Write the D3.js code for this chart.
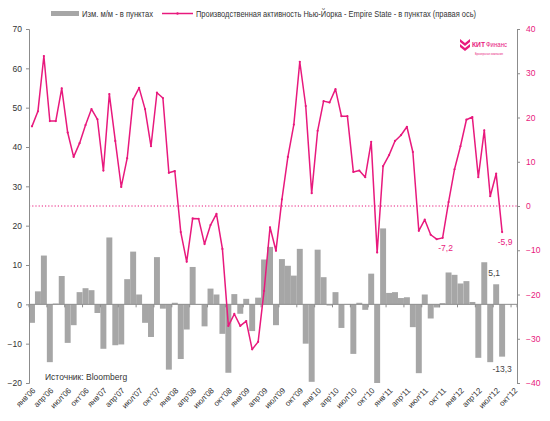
<!DOCTYPE html>
<html><head><meta charset="utf-8">
<script src="https://cdn.jsdelivr.net/npm/d3@7"></script>
<style>
body{margin:0;background:#fff;}
svg{display:block;font-family:"Liberation Sans",Arial,sans-serif;}
</style></head>
<body><svg id="c" width="550" height="421"></svg>
<script>
const months = [
"янв'06","фев'06","мар'06","апр'06","май'06","июн'06","июл'06","авг'06","сен'06","окт'06","ноя'06","дек'06",
"янв'07","фев'07","мар'07","апр'07","май'07","июн'07","июл'07","авг'07","сен'07","окт'07","ноя'07","дек'07",
"янв'08","фев'08","мар'08","апр'08","май'08","июн'08","июл'08","авг'08","сен'08","окт'08","ноя'08","дек'08",
"янв'09","фев'09","мар'09","апр'09","май'09","июн'09","июл'09","авг'09","сен'09","окт'09","ноя'09","дек'09",
"янв'10","фев'10","мар'10","апр'10","май'10","июн'10","июл'10","авг'10","сен'10","окт'10","ноя'10","дек'10",
"янв'11","фев'11","мар'11","апр'11","май'11","июн'11","июл'11","авг'11","сен'11","окт'11","ноя'11","дек'11",
"янв'12","фев'12","мар'12","апр'12","май'12","июн'12","июл'12","авг'12","сен'12","окт'12"];

const tickLabels = [
"янв'06","апр'06","июл'06","окт'06","янв'07","апр'07","июл'07","окт'07",
"янв'08","апр'08","июл'08","окт'08","янв'09","апр'09","июл'09","окт'09",
"янв'10","апр'10","июл'10","окт'10","янв'11","апр'11","июл'11","окт'11",
"янв'12","апр'12","июл'12","окт'12"];

// month-on-month change, points (left axis)
const changeMoM = [
-4.7, 3.3, 12.4, -14.7, 0.2, 7.2, -9.8, -5.3, 3.1, 4.1, 3.6, -2.2,
-11.3, 17.0, -10.4, -10.2, 6.4, 13.4, 2.5, -4.7, -8.3, 12.0, -1.1, -16.6,
0.4, -13.9, -6.4, 9.5, -0.1, -5.6, 4.0, 2.5, -7.5, -17.4, 2.6, -2.4,
1.4, -6.8, 1.7, 11.4, 14.6, -5.3, 11.5, 9.8, 7.3, 14.1, -10.0, -19.7,
13.9, 6.9, -0.3, 3.1, -6.0, 0.1, -12.6, 0.4, -1.4, 7.8, -25.2, 19.3,
2.9, 3.1, 1.6, 1.8, -5.8, -17.5, 2.5, -3.6, -0.8, 0.3, 8.1, 7.5,
5.3, 5.9, 0.6, -13.6, 10.7, -14.7, 5.1, -13.3, null, null];

// Empire State index (right axis)
const empireState = [
18.0, 21.4, 33.9, 19.2, 19.2, 26.6, 16.6, 11.1, 14.2, 18.3, 21.9, 19.6,
8.0, 25.3, 14.7, 4.3, 10.8, 24.1, 26.7, 21.9, 13.5, 25.6, 24.4, 7.5,
7.9, -5.9, -12.6, -2.8, -2.9, -8.6, -4.3, -1.8, -9.7, -27.1, -24.4, -27.1,
-26.0, -32.4, -30.7, -19.2, -4.8, -10.1, 1.5, 11.1, 18.4, 32.6, 22.6, 2.9,
17.0, 23.7, 23.4, 26.4, 20.3, 20.3, 7.7, 8.0, 6.5, 14.5, -10.5, 9.0,
11.5, 14.7, 16.0, 17.9, 12.2, -5.6, -3.1, -6.5, -7.5, -7.2, 0.9, 8.3,
13.5, 19.5, 20.1, 6.5, 17.1, 2.2, 7.3, -5.9, null, null];

const leftTicks = [-20,-10,0,10,20,30,40,50,60,70];
const rightTicks = [-40,-30,-20,-10,0,10,20,30,40];

const barLabels = [{m:"июл'12", v:5.1, t:"5,1"}, {m:"авг'12", v:-13.3, t:"-13,3"}];
const lineLabels = [{m:"окт'11", v:-7.2, t:"-7,2"}, {m:"авг'12", v:-5.9, t:"-5,9"}];

const legendBar = "Изм. м/м - в пунктах";
const legendLine = "Производственная активность Нью-Йорка - Empire State - в пунктах (правая ось)";

const PINK = "#e8197d", GRAY = "#a6a6a6", AXIS = "#8c8c8c", TXT = "#333";
const L = 29, R = 517, T = 29, B = 383;

const svg = d3.select("#c");
const x = d3.scaleBand().domain(months).range([L, R]).padding(0);
const yL = d3.scaleLinear().domain([-20, 70]).range([B, T]);
const yR = d3.scaleLinear().domain([-40, 40]).range([B, T]);
const cx = m => x(m) + x.bandwidth() / 2;

svg.append("defs").append("clipPath").attr("id", "plot")
  .append("rect").attr("x", L).attr("y", T).attr("width", R - L).attr("height", B - T);

// bars
svg.append("g").attr("clip-path", "url(#plot)").selectAll("rect")
  .data(months.map((m, i) => ({m, v: changeMoM[i]})).filter(d => d.v !== null))
  .join("rect")
  .attr("x", d => x(d.m))
  .attr("width", x.bandwidth())
  .attr("y", d => Math.min(yL(d.v), yL(0)))
  .attr("height", d => Math.abs(yL(d.v) - yL(0)))
  .attr("fill", GRAY);

// x axis line at 0 (left)
const xAxisG = svg.append("g").attr("transform", `translate(0,${yL(0)})`);
xAxisG.append("line").attr("x1", L).attr("x2", R).attr("stroke", AXIS).attr("stroke-width", 1);
xAxisG.selectAll("line.t").data(tickLabels).join("line").attr("class", "t")
  .attr("x1", d => x(d)).attr("x2", d => x(d)).attr("y1", 0).attr("y2", 3)
  .attr("stroke", AXIS);
xAxisG.append("line").attr("x1", R).attr("x2", R).attr("y1", 0).attr("y2", 3).attr("stroke", AXIS);

// rotated tick labels at bottom
svg.append("g").selectAll("text").data(tickLabels).join("text")
  .attr("transform", d => `translate(${cx(d) + 2},${B + 6}) rotate(-45)`)
  .attr("text-anchor", "end")
  .attr("dy", "0.35em")
  .attr("font-size", 8)
  .attr("fill", TXT)
  .text(d => d);

// zero line of right axis (dotted)
svg.append("line").attr("x1", L).attr("x2", R).attr("y1", yR(0)).attr("y2", yR(0))
  .attr("stroke", PINK).attr("stroke-width", 1).attr("stroke-dasharray", "1.2,2");

// left axis
const gl = svg.append("g").attr("transform", `translate(${L},0)`)
  .call(d3.axisLeft(yL).tickValues(leftTicks).tickSize(3).tickPadding(4));
gl.select(".domain").attr("stroke", AXIS);
gl.selectAll(".tick line").attr("stroke", AXIS);
gl.selectAll(".tick text").attr("font-size", 8.5).attr("fill", TXT).attr("font-family", "Liberation Sans, Arial, sans-serif");

// right axis
const gr = svg.append("g").attr("transform", `translate(${R},0)`)
  .call(d3.axisRight(yR).tickValues(rightTicks).tickSize(3).tickPadding(6));
gr.select(".domain").attr("stroke", AXIS);
gr.selectAll(".tick line").attr("stroke", AXIS);
gr.selectAll(".tick text").attr("font-size", 8.5).attr("fill", PINK).attr("font-family", "Liberation Sans, Arial, sans-serif");

// line
const lineData = months.map((m, i) => ({m, v: empireState[i]})).filter(d => d.v !== null);
svg.append("path").datum(lineData)
  .attr("d", d3.line().x(d => cx(d.m)).y(d => yR(d.v)))
  .attr("fill", "none").attr("stroke", PINK).attr("stroke-width", 1.5).attr("stroke-linejoin", "round");
svg.append("g").selectAll("circle").data(lineData).join("circle")
  .attr("cx", d => cx(d.m)).attr("cy", d => yR(d.v)).attr("r", 1.1).attr("fill", PINK);

// labels
svg.append("g").selectAll("text").data(barLabels).join("text")
  .attr("x", d => cx(d.m) + (d.v < 0 ? 0 : -2))
  .attr("y", d => d.v >= 0 ? yL(d.v) - 8 : yL(d.v) + 15)
  .attr("text-anchor", "middle").attr("font-size", 8.5).attr("fill", "#444").text(d => d.t);
svg.append("g").selectAll("text").data(lineLabels).join("text")
  .attr("x", d => cx(d.m) + 3)
  .attr("y", d => yR(d.v) + 13)
  .attr("text-anchor", "middle").attr("font-size", 8.5).attr("fill", PINK).text(d => d.t);

// source
svg.append("text").attr("x", 45).attr("y", 380).attr("font-size", 8.5).attr("fill", TXT).text("Источник: Bloomberg");

// legend
const lg = svg.append("g");
lg.append("rect").attr("x", 51).attr("y", 11).attr("width", 28).attr("height", 5).attr("fill", GRAY);
lg.append("text").attr("x", 82).attr("y", 16.5).attr("font-size", 8.5).attr("fill", TXT)
  .attr("textLength", 71).attr("lengthAdjust", "spacingAndGlyphs").text(legendBar);
lg.append("line").attr("x1", 162).attr("x2", 193).attr("y1", 13.5).attr("y2", 13.5).attr("stroke", PINK).attr("stroke-width", 1.5);
lg.append("circle").attr("cx", 177.5).attr("cy", 13.5).attr("r", 1.2).attr("fill", PINK);
lg.append("text").attr("x", 196).attr("y", 16.5).attr("font-size", 8.5).attr("fill", TXT)
  .attr("textLength", 280).attr("lengthAdjust", "spacingAndGlyphs").text(legendLine);

// logo
const logo = svg.append("g");
logo.append("path").attr("d", "M460,39 L465,43 L470,39 L470,42 L465,46 L460,42 Z").attr("fill", PINK);
logo.append("path").attr("d", "M460,44 L465,48 L470,44 L470,47 L465,51 L460,47 Z").attr("fill", PINK);
logo.append("text").attr("x", 472).attr("y", 47).attr("font-size", 8).attr("font-weight", "bold").attr("fill", PINK)
  .attr("textLength", 13).attr("lengthAdjust", "spacingAndGlyphs").text("КИТ");
logo.append("text").attr("x", 486).attr("y", 47).attr("font-size", 8).attr("fill", PINK)
  .attr("textLength", 21).attr("lengthAdjust", "spacingAndGlyphs").text("Финанс");
logo.append("text").attr("x", 475).attr("y", 54.5).attr("font-size", 3.5).attr("fill", PINK)
  .attr("textLength", 28).attr("lengthAdjust", "spacingAndGlyphs").text("Брокерская компания");
</script></body></html>
